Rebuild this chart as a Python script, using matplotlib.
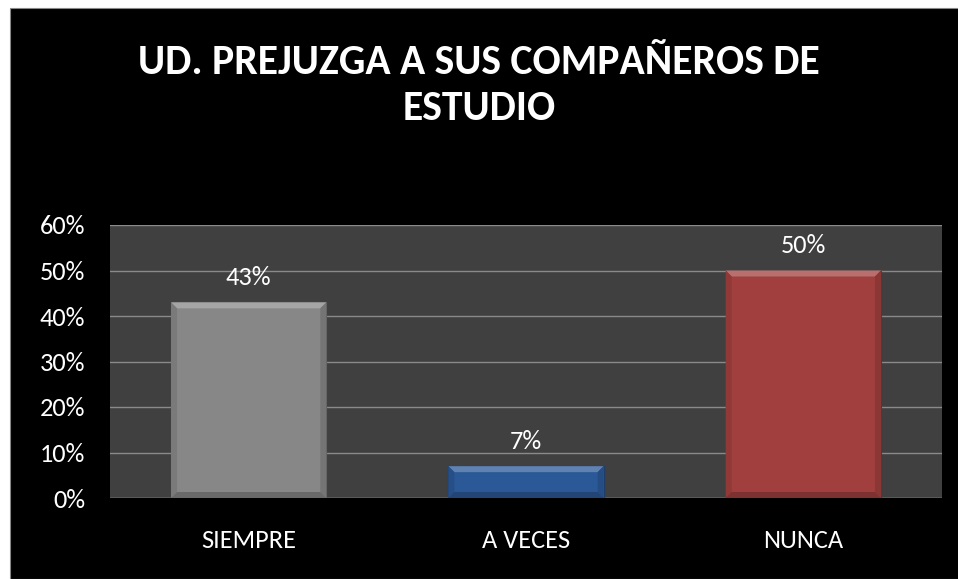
import matplotlib.pyplot as plt
from matplotlib.patches import Rectangle, Polygon
from matplotlib.ticker import PercentFormatter
from matplotlib.colors import to_rgb

categorias = ['SIEMPRE', 'A VECES', 'NUNCA']
valores = [0.43, 0.07, 0.50]
colores = ['#878787', '#2b5896', '#a03f3d']

titulo = 'UD. PREJUZGA A SUS COMPAÑEROS DE\nESTUDIO'

plt.rcParams['font.family'] = ['Carlito', 'Lato', 'DejaVu Sans']


def tono(c, f):
    r, g, b = to_rgb(c)
    if f > 1:
        return tuple(v + (1 - v) * (f - 1) for v in (r, g, b))
    return tuple(v * f for v in (r, g, b))


fig = plt.figure(figsize=(9.58, 5.79), dpi=100, facecolor='white')
# fondo negro con margen blanco arriba e izquierda
fig.patches.append(Rectangle((10/958, 0), 1, 1 - 8/579, transform=fig.transFigure,
                             facecolor='black', edgecolor='#888888', linewidth=0.8, zorder=-10))

ax = fig.add_axes([110/958, 1 - 498/579, 832/958, 273/579])
ax.set_zorder(2)
ax.set_facecolor('#404040')
ax.set_ylim(0, 0.6)
ax.set_xlim(-0.5, 2.5)

x = range(len(categorias))
barras = ax.bar(x, valores, width=0.56, color=colores, edgecolor=[tono(c, 0.7) for c in colores],
                linewidth=0.8, zorder=3)

# biselado de las barras (~6 px)
dx = 6 * 3.0 / 832
dy = 6 * 0.6 / 273
for b, c in zip(barras, colores):
    x0, y0 = b.get_x(), b.get_y()
    x1, y1 = x0 + b.get_width(), y0 + b.get_height()
    caras = [
        ([(x0, y1), (x1, y1), (x1 - dx, y1 - dy), (x0 + dx, y1 - dy)], tono(c, 1.25)),
        ([(x0, y0), (x0, y1), (x0 + dx, y1 - dy), (x0 + dx, y0 + dy)], tono(c, 0.9)),
        ([(x1, y0), (x1, y1), (x1 - dx, y1 - dy), (x1 - dx, y0 + dy)], tono(c, 0.87)),
        ([(x0, y0), (x1, y0), (x1 - dx, y0 + dy), (x0 + dx, y0 + dy)], tono(c, 0.78)),
    ]
    for pts, col in caras:
        ax.add_patch(Polygon(pts, closed=True, facecolor=col, edgecolor='none', zorder=4))

for b, v in zip(barras, valores):
    ax.annotate('%d%%' % round(v * 100), (b.get_x() + b.get_width() / 2, v),
                xytext=(0, 18), textcoords='offset points', ha='center', va='center',
                color='white', fontsize=19, zorder=5)

ax.set_yticks([0, 0.1, 0.2, 0.3, 0.4, 0.5, 0.6])
ax.yaxis.set_major_formatter(PercentFormatter(1.0, decimals=0))
ax.set_xticks(list(x))
ax.set_xticklabels(categorias)
ax.tick_params(axis='y', colors='white', labelsize=19, length=0, pad=18)
ax.tick_params(axis='x', colors='white', labelsize=19, length=0, pad=22)
ax.grid(axis='y', color='#8a8a8a', linewidth=1, zorder=1)
for s in ax.spines.values():
    s.set_visible(False)
ax.axhline(0, color='#8a8a8a', linewidth=1, zorder=2)

fig.text(0.5, 1 - 85/579, titulo, ha='center', va='center', color='white',
         fontsize=30, fontweight='bold', linespacing=1.3)

plt.savefig('out.png', dpi=100, facecolor=fig.get_facecolor())
